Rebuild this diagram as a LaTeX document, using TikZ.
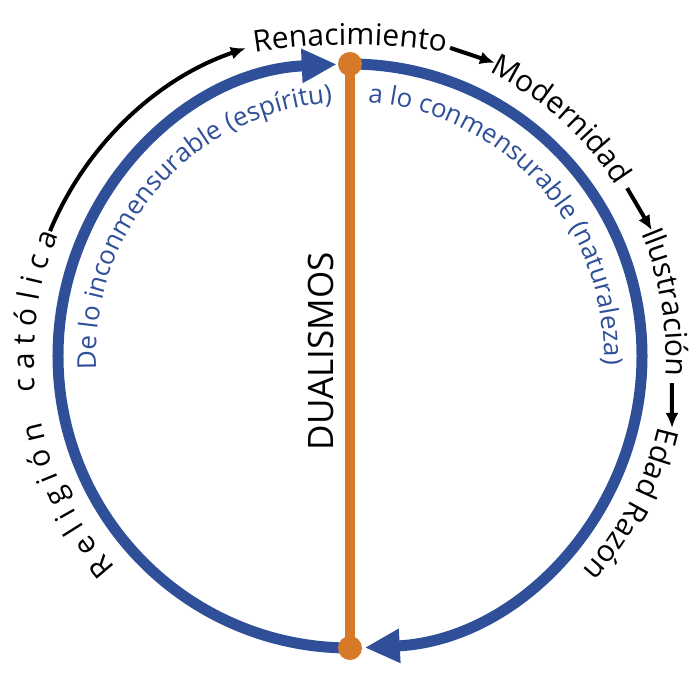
\documentclass[tikz,border=0pt]{standalone}
\usepackage{fontspec}
\setmainfont{Open Sans}
\usepackage{xcolor}
\usepackage{tikz}
\usetikzlibrary{arrows.meta,decorations.text}
\definecolor{dblue}{RGB}{47,79,153}
\definecolor{dorange}{RGB}{214,122,42}
\newcommand{\blacktxt}{\fontsize{30}{36}\selectfont}
\newcommand{\bluetxt}{\fontsize{26}{31}\selectfont}

\begin{document}
\begin{tikzpicture}[x=1pt,y=1pt,>={Latex[length=15pt,width=13pt]}]
\tikzstyle{along}=[decorate,decoration={text along path,text align=center}]
\tikzstyle{period}=[line width=4pt,->]
\tikzstyle{flow}=[draw=dblue,line width=11pt,-{Triangle[length=35pt,width=32pt]}]
\tikzstyle{dot}=[circle,fill=dorange,inner sep=0pt,minimum size=24pt]
\useasboundingbox (-350,-344) rectangle (350,356);
\coordinate (top) at (90:292);
\coordinate (bot) at (270:292);
\draw[flow] (bot) arc[start angle=270,end angle=92.6,radius=292pt];
\draw[flow] (top) arc[start angle=90,end angle=-87.1,radius=292pt];
\draw[dorange,line width=10pt] (top) -- (bot);
\node[dot] (ntop) at (top) {};
\node[dot] (nbot) at (bot) {};
\node[rotate=90,font=\fontsize{35}{42}\selectfont] (dual) at (-29,5) {DUALISMOS};
\path[along,decoration={text color=dblue,text={|\bluetxt|De lo inconmensurable (espíritu)}}] (198.5:254) arc[start angle=198.5,end angle=78.5,radius=254pt];
\path[along,decoration={text color=dblue,text={|\bluetxt|a lo conmensurable (naturaleza)}}] (102:254) arc[start angle=102,end angle=-18,radius=254pt];
\path[along,decoration={text={|\blacktxt|Renacimiento}}] ([shift={(0,-289)}]102:600) arc[start angle=102,end angle=78,radius=600pt];
\path[along,decoration={text={|\blacktxt|Modernidad}}] (75:316) arc[start angle=75,end angle=21.6,radius=316pt];
\path[along,decoration={text={|\blacktxt|Ilustración}}] (30:316) arc[start angle=30,end angle=-10.8,radius=316pt];
\path[along,decoration={text={|\blacktxt|Edad Razón}}] (-5:316) arc[start angle=-5,end angle=-50.6,radius=316pt];
\path[along,decoration={text={|\blacktxt|R e l i g i ó n}}] (237:316) arc[start angle=237,end angle=177,radius=316pt];
\path[along,decoration={text={|\blacktxt|c a t ó l i c a}}] (200:316) arc[start angle=200,end angle=144,radius=316pt];
\coordinate (c1) at (157.4:325);
\coordinate (r1) at (72:324);
\coordinate (m1) at (63.7:327);
\coordinate (m2) at (31.2:324);
\coordinate (i1) at (22.6:327);
\coordinate (i2) at (-4.8:323);
\coordinate (e1) at (-12.6:330);
\draw[period] (c1) arc[start angle=157.4,end angle=108.7,radius=325pt];
\draw[period] (r1) -- (m1);
\draw[period] (m2) -- (i1);
\draw[period] (i2) -- (e1);
\end{tikzpicture}
\end{document}
